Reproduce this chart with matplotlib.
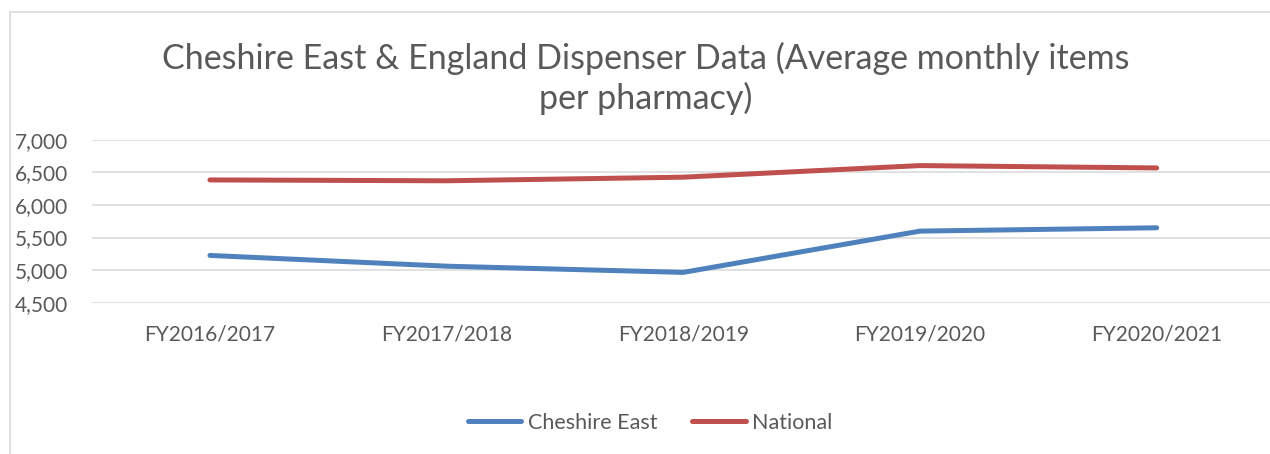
import matplotlib.pyplot as plt
from matplotlib.patches import Rectangle

# data
years = ["FY2016/2017", "FY2017/2018", "FY2018/2019", "FY2019/2020", "FY2020/2021"]
cheshire_east = [5225, 5060, 4965, 5598, 5649]
national = [6383, 6370, 6425, 6603, 6567]

plt.rcParams['font.family'] = ['Lato', 'DejaVu Sans']
text_col = '#595959'
grid_col = '#D9D9D9'

fig = plt.figure(figsize=(12.7, 4.54), dpi=100)

# chart frame (runs off the right / bottom edge in the reference)
fig.patches.append(Rectangle((10 / 1270, -0.1), 1.2, 1 - 12 / 454 + 0.1,
                             transform=fig.transFigure, fill=False,
                             edgecolor=grid_col, linewidth=1.2))

ax = fig.add_axes([91.6 / 1270, 1 - 302.7 / 454, (1275 - 91.6) / 1270, 163 / 454])
x = range(len(years))
ax.plot(x, cheshire_east, color='#4F81BD', lw=3.6, solid_capstyle='round',
        solid_joinstyle='round', label='Cheshire East')
ax.plot(x, national, color='#C0504D', lw=3.6, solid_capstyle='round',
        solid_joinstyle='round', label='National')

ax.set_xlim(-0.5, len(years) - 0.5)
ax.set_ylim(4500, 7000)
ax.set_yticks(range(4500, 7001, 500))
ax.yaxis.set_major_formatter(plt.FuncFormatter(lambda v, p: f"{int(v):,}"))
ax.set_xticks(list(x))
ax.set_xticklabels(years)
ax.tick_params(length=0, labelsize=15, colors=text_col)
ax.tick_params(axis='y', pad=17)
ax.tick_params(axis='x', pad=16)
ax.grid(axis='y', color=grid_col, lw=1.1)
ax.set_axisbelow(True)
for s in ax.spines.values():
    s.set_visible(False)

fig.text(646 / 1270, 1 - 78 / 454,
         "Cheshire East & England Dispenser Data (Average monthly items\nper pharmacy)",
         ha='center', va='center', fontsize=24.5, color=text_col, linespacing=1.25)

leg = fig.legend(loc='center', bbox_to_anchor=(650 / 1270, 1 - 423 / 454), ncol=2,
                 frameon=False, fontsize=15.5, labelcolor=text_col, handlelength=2.5,
                 handletextpad=0.3, columnspacing=1.6)
for h in leg.get_lines():
    h.set_solid_capstyle('round')

fig.savefig('out.png', dpi=100)
